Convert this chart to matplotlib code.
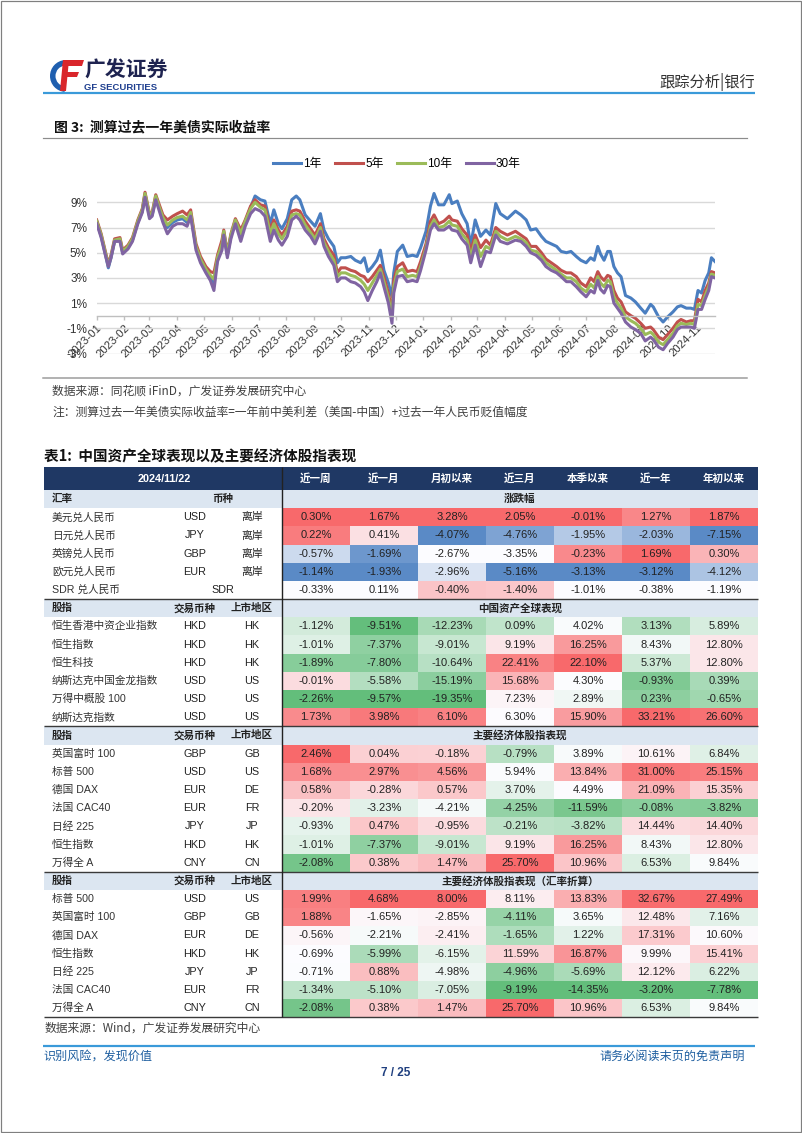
import matplotlib
matplotlib.use("Agg")
import matplotlib.pyplot as plt
import matplotlib.dates as mdates
import matplotlib.colors as mcolors
from matplotlib.patches import Rectangle, Wedge, Polygon
from matplotlib.lines import Line2D
import numpy as np
import pandas as pd

# ---------------- Figure 3 data ----------------
dates = ["2023-01-01","2023-01-06","2023-01-10","2023-01-14","2023-01-17","2023-01-21","2023-01-27","2023-01-30",
         "2023-02-05","2023-02-10","2023-02-16","2023-02-21","2023-02-24",
         "2023-03-01","2023-03-04","2023-03-08","2023-03-12","2023-03-16","2023-03-21","2023-03-27",
         "2023-04-01","2023-04-07","2023-04-12","2023-04-16","2023-04-22","2023-04-27",
         "2023-05-03","2023-05-08","2023-05-12","2023-05-16","2023-05-21","2023-05-23","2023-05-27","2023-05-31",
         "2023-06-05","2023-06-11","2023-06-16","2023-06-22","2023-06-27",
         "2023-07-03","2023-07-08","2023-07-14","2023-07-18","2023-07-23","2023-07-27",
         "2023-08-02","2023-08-07","2023-08-12","2023-08-16","2023-08-22","2023-08-28",
         "2023-09-02","2023-09-08","2023-09-12","2023-09-17","2023-09-23","2023-09-27",
         "2023-10-01","2023-10-06","2023-10-12","2023-10-17","2023-10-23","2023-10-27","2023-10-31",
         "2023-11-05","2023-11-10","2023-11-14","2023-11-18","2023-11-23","2023-11-27","2023-11-29",
         "2023-12-03","2023-12-09","2023-12-14","2023-12-20","2023-12-25","2023-12-29",
         "2024-01-04","2024-01-09","2024-01-13","2024-01-18","2024-01-24","2024-01-30",
         "2024-02-02","2024-02-08","2024-02-13","2024-02-19","2024-02-23","2024-02-28",
         "2024-03-05","2024-03-11","2024-03-16","2024-03-22","2024-03-27",
         "2024-04-04","2024-04-13","2024-04-19","2024-04-25","2024-04-30",
         "2024-05-06","2024-05-12","2024-05-17","2024-05-23","2024-05-29",
         "2024-06-03","2024-06-09","2024-06-14","2024-06-20","2024-06-25",
         "2024-07-01","2024-07-06","2024-07-10","2024-07-14","2024-07-17","2024-07-21","2024-07-25","2024-07-28",
         "2024-08-01","2024-08-05","2024-08-09","2024-08-14","2024-08-20","2024-08-25","2024-08-31",
         "2024-09-05","2024-09-11","2024-09-14","2024-09-20","2024-09-25","2024-09-30",
         "2024-10-06","2024-10-11","2024-10-15","2024-10-21","2024-10-26","2024-10-30",
         "2024-11-03","2024-11-07","2024-11-11","2024-11-15","2024-11-18","2024-11-22"]

yield_1y = [7.5, 6.3, 5.1, 3.8, 4.6, 5.9, 6.0, 5.0,
            5.4, 6.0, 7.4, 8.3, 9.6,
            7.9, 8.0, 9.3, 8.5, 7.7, 7.0, 7.4,
            7.6, 7.7, 7.4, 8.1, 5.4, 4.4,
            3.6, 3.1, 2.6, 4.5, 5.5, 6.6, 4.8, 6.3,
            7.5, 6.3, 7.4, 8.6, 9.5,
            9.2, 9.1, 7.3, 8.4, 7.3, 6.9,
            7.7, 9.2, 9.5, 9.2, 8.0, 7.5,
            7.1, 8.1, 6.8, 6.1, 5.5, 4.2,
            4.6, 4.6, 4.7, 4.4, 4.2, 4.6, 3.5,
            3.9, 4.4, 5.2, 3.6, 2.6, 1.5, 3.4,
            5.1, 5.6, 4.7, 4.8, 4.7, 5.4,
            6.7, 8.7, 9.7, 8.8, 8.8, 9.6,
            8.9, 9.1, 8.1, 7.3, 5.6, 7.6,
            6.3, 6.8, 6.4, 8.9, 8.1,
            7.7, 8.3, 8.0, 7.6, 6.8,
            6.9, 6.3, 5.9, 5.7, 5.5,
            5.1, 5.0, 5.1, 4.7, 4.4,
            4.2, 4.6, 4.4, 5.5, 4.9, 4.4, 5.1, 5.1,
            3.9, 3.4, 3.1, 1.6, 1.4, 1.1, 0.6,
            0.2, 0.9, 0.7, -0.1, -0.5, -0.1,
            0.3, 0.7, 0.8, 0.6, 0.6, 0.5,
            2.0, 1.8, 2.8, 3.4, 4.6, 4.3]

yield_5y = [7.6, 6.5, 5.3, 4.1, 4.8, 6.1, 6.2, 5.2,
            5.6, 6.2, 7.6, 8.5, 9.8,
            8.1, 8.2, 9.6, 8.8, 8.0, 7.6, 7.9,
            8.1, 8.3, 8.0, 8.4, 5.7, 4.7,
            3.9, 3.5, 3.4, 4.8, 6.0, 6.8, 5.0, 6.5,
            7.7, 6.8, 7.6, 8.7, 9.2,
            8.8, 8.7, 6.8, 7.6, 6.8, 6.4,
            7.1, 8.3, 8.4, 8.3, 7.5, 6.9,
            6.4, 7.3, 6.1, 5.4, 4.8, 3.4,
            3.8, 3.8, 3.6, 3.5, 3.2, 3.1, 2.7,
            3.1, 3.6, 4.0, 3.1, 1.8, 0.3, 2.8,
            3.9, 4.2, 3.5, 3.6, 3.5, 4.3,
            5.7, 7.5, 8.0, 7.3, 7.5, 7.9,
            7.6, 7.5, 6.9, 6.4, 5.1, 6.4,
            5.4, 6.0, 5.6, 7.0, 6.7,
            6.4, 6.7, 6.4, 6.1, 5.5,
            5.5, 5.0, 4.5, 4.2, 3.9,
            3.6, 3.4, 3.4, 3.1, 2.6,
            2.3, 3.0, 2.7, 3.5, 3.1, 2.8, 3.2, 3.1,
            2.0, 1.4, 1.1, 0.3, 0.0, -0.2, -0.6,
            -1.0, -0.9, -1.1, -1.7, -1.9, -1.5,
            -1.0, -0.5, -0.3, -0.5, -0.4, -0.4,
            1.3, 1.1, 2.0, 2.6, 3.5, 3.4]

yield_10y = [7.5, 6.4, 5.2, 4.0, 4.7, 6.0, 6.1, 5.1,
             5.5, 6.1, 7.5, 8.4, 9.7,
             8.0, 8.1, 9.5, 8.6, 7.8, 7.2, 7.6,
             7.8, 7.9, 7.6, 8.2, 5.5, 4.5,
             3.7, 3.2, 2.9, 4.6, 5.7, 6.7, 4.9, 6.4,
             7.6, 6.5, 7.5, 8.5, 9.0,
             8.6, 8.4, 6.5, 7.3, 6.5, 6.1,
             6.8, 8.0, 8.1, 8.0, 7.2, 6.6,
             6.1, 7.0, 5.8, 5.1, 4.4, 3.1,
             3.4, 3.4, 3.2, 3.1, 2.8, 2.5, 2.0,
             2.6, 3.2, 3.7, 2.7, 1.4, -0.1, 2.3,
             3.5, 3.7, 3.1, 3.2, 3.1, 3.9,
             5.4, 7.1, 7.6, 7.0, 7.1, 7.5,
             7.2, 7.1, 6.5, 6.0, 4.6, 6.0,
             4.7, 5.5, 5.3, 6.7, 6.3,
             6.0, 6.3, 6.1, 5.8, 5.2,
             5.1, 4.7, 4.2, 3.9, 3.6,
             3.3, 3.0, 3.0, 2.7, 2.2,
             1.9, 2.5, 2.2, 3.1, 2.6, 2.3, 2.8, 2.7,
             1.5, 1.0, 0.6, -0.1, -0.4, -0.6, -1.0,
             -1.5, -1.3, -1.5, -2.1, -2.3, -1.9,
             -1.4, -0.8, -0.6, -0.7, -0.6, -0.7,
             0.9, 0.8, 1.6, 2.3, 3.3, 3.2]

yield_30y = [7.3, 6.2, 5.0, 3.9, 4.6, 5.9, 5.9, 4.9,
             5.3, 5.9, 7.3, 8.2, 9.4,
             7.7, 7.9, 9.2, 8.3, 7.4, 6.5, 7.1,
             7.3, 7.3, 7.1, 7.9, 5.2, 4.2,
             3.4, 2.8, 2.0, 4.3, 5.2, 6.4, 4.6, 6.1,
             7.3, 5.9, 7.1, 8.1, 8.5,
             8.3, 7.9, 5.9, 6.8, 6.0, 5.6,
             6.3, 7.6, 7.9, 7.6, 6.8, 6.3,
             5.7, 6.7, 5.5, 4.7, 4.0, 2.7,
             3.0, 3.0, 2.7, 2.6, 2.3, 1.9, 1.2,
             2.0, 2.7, 3.4, 2.3, 1.0, -0.6, 1.8,
             3.1, 3.2, 2.7, 2.8, 2.7, 3.6,
             5.2, 6.8, 7.3, 6.8, 6.8, 7.1,
             6.8, 6.7, 6.1, 5.6, 4.2, 5.6,
             3.9, 5.1, 5.0, 6.4, 5.9,
             5.7, 6.0, 5.9, 5.5, 5.0,
             4.8, 4.4, 3.9, 3.6, 3.4,
             3.1, 2.7, 2.7, 2.3, 1.9,
             1.5, 2.0, 1.8, 2.8, 2.1, 1.8, 2.4, 2.3,
             1.0, 0.6, 0.2, -0.5, -0.9, -1.1, -1.4,
             -2.0, -1.7, -1.9, -2.5, -2.7, -2.2,
             -1.7, -1.1, -0.9, -0.9, -0.9, -1.0,
             0.5, 0.5, 1.3, 2.0, 3.1, 3.0]

series_names = ["1年", "5年", "10年", "30年"]
y_ticks = [-3, -1, 1, 3, 5, 7, 9]

# ---------------- Table 1 data ----------------
table_date = "2024/11/22"
periods = ["近一周", "近一月", "月初以来", "近三月", "本季以来", "近一年", "年初以来"]

fx_names = ["美元兑人民币", "日元兑人民币", "英镑兑人民币", "欧元兑人民币", "SDR 兑人民币"]
fx_codes = ["USD", "JPY", "GBP", "EUR", "SDR"]
fx_market = ["离岸", "离岸", "离岸", "离岸", ""]
fx_vals = [[0.30, 1.67, 3.28, 2.05, -0.01, 1.27, 1.87],
           [0.22, 0.41, -4.07, -4.76, -1.95, -2.03, -7.15],
           [-0.57, -1.69, -2.67, -3.35, -0.23, 1.69, 0.30],
           [-1.14, -1.93, -2.96, -5.16, -3.13, -3.12, -4.12],
           [-0.33, 0.11, -0.40, -1.40, -1.01, -0.38, -1.19]]

cn_names = ["恒生香港中资企业指数", "恒生指数", "恒生科技", "纳斯达克中国金龙指数", "万得中概股 100", "纳斯达克指数"]
cn_codes = ["HKD", "HKD", "HKD", "USD", "USD", "USD"]
cn_regions = ["HK", "HK", "HK", "US", "US", "US"]
cn_vals = [[-1.12, -9.51, -12.23, 0.09, 4.02, 3.13, 5.89],
           [-1.01, -7.37, -9.01, 9.19, 16.25, 8.43, 12.80],
           [-1.89, -7.80, -10.64, 22.41, 22.10, 5.37, 12.80],
           [-0.01, -5.58, -15.19, 15.68, 4.30, -0.93, 0.39],
           [-2.26, -9.57, -19.35, 7.23, 2.89, 0.23, -0.65],
           [1.73, 3.98, 6.10, 6.30, 15.90, 33.21, 26.60]]

eq_names = ["英国富时 100", "标普 500", "德国 DAX", "法国 CAC40", "日经 225", "恒生指数", "万得全 A"]
eq_codes = ["GBP", "USD", "EUR", "EUR", "JPY", "HKD", "CNY"]
eq_regions = ["GB", "US", "DE", "FR", "JP", "HK", "CN"]
eq_vals = [[2.46, 0.04, -0.18, -0.79, 3.89, 10.61, 6.84],
           [1.68, 2.97, 4.56, 5.94, 13.84, 31.00, 25.15],
           [0.58, -0.28, 0.57, 3.70, 4.49, 21.09, 15.35],
           [-0.20, -3.23, -4.21, -4.25, -11.59, -0.08, -3.82],
           [-0.93, 0.47, -0.95, -0.21, -3.82, 14.44, 14.40],
           [-1.01, -7.37, -9.01, 9.19, 16.25, 8.43, 12.80],
           [-2.08, 0.38, 1.47, 25.70, 10.96, 6.53, 9.84]]

eqfx_names = ["标普 500", "英国富时 100", "德国 DAX", "恒生指数", "日经 225", "法国 CAC40", "万得全 A"]
eqfx_codes = ["USD", "GBP", "EUR", "HKD", "JPY", "EUR", "CNY"]
eqfx_regions = ["US", "GB", "DE", "HK", "JP", "FR", "CN"]
eqfx_vals = [[1.99, 4.68, 8.00, 8.11, 13.83, 32.67, 27.49],
             [1.88, -1.65, -2.85, -4.11, 3.65, 12.48, 7.16],
             [-0.56, -2.21, -2.41, -1.65, 1.22, 17.31, 10.60],
             [-0.69, -5.99, -6.15, 11.59, 16.87, 9.99, 15.41],
             [-0.71, 0.88, -4.98, -4.96, -5.69, 12.12, 6.22],
             [-1.34, -5.10, -7.05, -9.19, -14.35, -3.20, -7.78],
             [-2.08, 0.38, 1.47, 25.70, 10.96, 6.53, 9.84]]

# ---------------- styling ----------------
W, H = 802, 1133
SANS = ["Liberation Sans", "Noto Sans CJK SC"]
CJK = ["Noto Sans CJK SC", "DejaVu Sans"]
LINE_COLORS = ["#4A7EC0", "#C0504D", "#9BBB59", "#8064A2"]
RED, GREEN, BLUE, WHITE = "#F8696B", "#63BE7B", "#5A8AC6", "#FCFCFF"

fig = plt.figure(figsize=(W / 100, H / 100), dpi=100)
fig.patch.set_facecolor("white")
page = fig.add_axes([0, 0, 1, 1])
page.set_xlim(0, W)
page.set_ylim(H, 0)
page.axis("off")

def px(p):
    return p * 72.0 / 100.0  # pixels -> points

# page frame
page.add_patch(Rectangle((0.5, 0.5), W - 1.5, H - 1.5, fill=False, ec="#7F7F7F", lw=px(1.2)))

# ---------------- header / logo ----------------
page.add_patch(Wedge((66, 76), 16, 95, 265, width=5.5, fc="#1F5FAF", ec="none"))
page.add_patch(Polygon([(64, 60), (84, 60), (82, 66), (62, 66)], closed=True, fc="#D9262B", ec="none"))
page.add_patch(Polygon([(63, 60), (69, 60), (66, 91), (60, 91)], closed=True, fc="#D9262B", ec="none"))
page.add_patch(Polygon([(63, 72), (79, 72), (77, 77), (62, 77)], closed=True, fc="#D9262B", ec="none"))
page.text(84, 70, "广发证券", family=CJK, fontsize=15, fontweight="bold", color="#1E2350",
          ha="left", va="center")
page.text(84, 87.5, "GF SECURITIES", family=SANS, fontsize=6.8, fontweight="bold", color="#1F3F8F",
          ha="left", va="center")
page.text(755, 82, "跟踪分析|银行", family=CJK, fontsize=11, color="#333333", ha="right", va="center")
page.plot([43, 755], [92.5, 92.5], color="#3A9AD9", lw=px(2.2), solid_capstyle="butt")

page.text(54, 127, "图 3:  测算过去一年美债实际收益率", family=CJK, fontsize=10, fontweight="bold",
          color="#111111", ha="left", va="center")
page.plot([43, 747], [137.5, 137.5], color="#8C8C8C", lw=px(1.2))
page.plot([43, 747], [378, 378], color="#9A9A9A", lw=px(1.5))
page.text(52, 391, "数据来源：同花顺 iFinD，广发证券发展研究中心", family=CJK, fontsize=8.5,
          color="#404040", ha="left", va="center")
page.text(52, 412, "注：测算过去一年美债实际收益率=一年前中美利差（美国-中国）+过去一年人民币贬值幅度",
          family=CJK, fontsize=8.5, color="#404040", ha="left", va="center")
page.text(44, 456, "表1:  中国资产全球表现以及主要经济体股指表现", family=CJK, fontsize=10.5,
          fontweight="bold", color="#111111", ha="left", va="center")

# ---------------- table ----------------
X0, XS, X1 = 44, 282, 758
CW = (X1 - XS) / 7.0
RH = 18.18
HT, HB = 467, 490

page.add_patch(Rectangle((X0, HT), X1 - X0, HB - HT, fc="#1F3864", ec="none"))
page.text((X0 + XS) / 2 + 1, (HT + HB) / 2, table_date, family=SANS, fontsize=7.8, fontweight="bold",
          color="white", ha="center", va="center")
for j, p in enumerate(periods):
    page.text(XS + CW * (j + 0.5), (HT + HB) / 2, p, family=CJK, fontsize=7.6, fontweight="bold",
              color="white", ha="center", va="center")

def blend(c, t):
    w = np.array(mcolors.to_rgb(WHITE))
    c = np.array(mcolors.to_rgb(c))
    t = min(max(t, 0.0), 1.0)
    return tuple(w + (c - w) * t)

def column_colors(values, low_col, high_col):
    v = np.asarray(values, float)
    med, mx, mn = np.median(v), v.max(), v.min()
    out = []
    for x in v:
        if x >= med:
            out.append(blend(high_col, (x - med) / (mx - med) if mx > med else 0))
        else:
            out.append(blend(low_col, (med - x) / (med - mn) if med > mn else 0))
    return out

fx_cols = [column_colors([r[j] for r in fx_vals], BLUE, RED) for j in range(7)]
stock_all = cn_vals + eq_vals + eqfx_vals
stock_cols = [column_colors([r[j] for r in stock_all], GREEN, RED) for j in range(7)]
n1, n2 = len(cn_vals), len(eq_vals)

sections = [
    dict(left=[("汇率", "l", 52), ("币种", "c", 223)], title="涨跌幅",
         names=fx_names, codes=fx_codes, regions=fx_market, vals=fx_vals,
         colors=[[fx_cols[j][i] for j in range(7)] for i in range(len(fx_vals))]),
    dict(left=[("股指", "l", 52), ("交易币种", "c", 195), ("上市地区", "c", 252)], title="中国资产全球表现",
         names=cn_names, codes=cn_codes, regions=cn_regions, vals=cn_vals,
         colors=[[stock_cols[j][i] for j in range(7)] for i in range(n1)]),
    dict(left=[("股指", "l", 52), ("交易币种", "c", 195), ("上市地区", "c", 252)], title="主要经济体股指表现",
         names=eq_names, codes=eq_codes, regions=eq_regions, vals=eq_vals,
         colors=[[stock_cols[j][n1 + i] for j in range(7)] for i in range(n2)]),
    dict(left=[("股指", "l", 52), ("交易币种", "c", 195), ("上市地区", "c", 252)],
         title="主要经济体股指表现（汇率折算）",
         names=eqfx_names, codes=eqfx_codes, regions=eqfx_regions, vals=eqfx_vals,
         colors=[[stock_cols[j][n1 + n2 + i] for j in range(7)] for i in range(len(eqfx_vals))]),
]

row = 0
sep_lines = []
for si, sec in enumerate(sections):
    top = HB + row * RH
    if si > 0:
        sep_lines.append(top)
    page.add_patch(Rectangle((X0, top), X1 - X0, RH, fc="#DCE6F1", ec="none"))
    cy = top + RH / 2
    for txt, al, x in sec["left"]:
        page.text(x, cy, txt, family=CJK, fontsize=7.6, fontweight="bold", color="#222222",
                  ha="left" if al == "l" else "center", va="center")
    page.text((XS + X1) / 2, cy, sec["title"], family=CJK, fontsize=7.6, fontweight="bold",
              color="#222222", ha="center", va="center")
    row += 1
    for i, name in enumerate(sec["names"]):
        top = HB + row * RH
        cy = top + RH / 2
        page.text(52, cy, name, family=SANS, fontsize=7.7, color="#333333", ha="left", va="center")
        region = sec["regions"][i]
        if region:
            page.text(195, cy, sec["codes"][i], family=SANS, fontsize=7.8, color="#222222",
                      ha="center", va="center")
            page.text(252, cy, region, family=SANS, fontsize=7.8, color="#222222",
                      ha="center", va="center")
        else:
            page.text(223, cy, sec["codes"][i], family=SANS, fontsize=7.8, color="#222222",
                      ha="center", va="center")
        for j, v in enumerate(sec["vals"][i]):
            page.add_patch(Rectangle((XS + CW * j, top), CW + 0.3, RH + 0.3,
                                     fc=sec["colors"][i][j], ec="none"))
            page.text(XS + CW * (j + 0.5), cy, f"{v:.2f}%", family=SANS, fontsize=8,
                      color="#222222", ha="center", va="center")
        row += 1

TB = HB + row * RH
for y in sep_lines + [TB]:
    page.plot([X0, X1], [y, y], color="#3A3A3A", lw=px(1.4), solid_capstyle="butt")
page.plot([XS, XS], [HT, TB], color="#222222", lw=px(1.4), solid_capstyle="butt")

page.text(45, 1028, "数据来源：Wind，广发证券发展研究中心", family=CJK, fontsize=8.5,
          color="#404040", ha="left", va="center")
page.plot([43, 755], [1045.5, 1045.5], color="#3A9AD9", lw=px(2.2), solid_capstyle="butt")
page.text(43, 1056, "识别风险，发现价值", family=CJK, fontsize=8.7, color="#1F5FA0",
          ha="left", va="center")
page.text(745, 1056, "请务必阅读末页的免责声明", family=CJK, fontsize=8.7, color="#1F5FA0",
          ha="right", va="center")
page.text(396, 1073, "7 / 25", family=SANS, fontsize=8.5, fontweight="bold", color="#1F3F7F",
          ha="center", va="center")

# ---------------- chart ----------------
AX_L, AX_R, AX_B, AX_T = 96.7, 715.0, 353.5, 183.4
ax = fig.add_axes([AX_L / W, 1 - AX_B / H, (AX_R - AX_L) / W, (AX_B - AX_T) / H])
ax.set_facecolor("none")
t = pd.to_datetime(dates)
for vals, name, c in zip([yield_1y, yield_5y, yield_10y, yield_30y], series_names, LINE_COLORS):
    ax.plot(t, vals, color=c, lw=2.2, label=name, solid_joinstyle="round")

ax.set_ylim(-3, 10.5)
ax.set_xlim(pd.Timestamp("2023-01-01"), pd.Timestamp("2024-11-22"))
ax.set_yticks(y_ticks)
ax.set_yticklabels([f"{v}%" for v in y_ticks], family=SANS, fontsize=8.5, color="#333333")
ax.yaxis.grid(True, color="#D9D9D9", lw=1.0)
ax.set_axisbelow(True)
for s in ["left", "right", "top"]:
    ax.spines[s].set_visible(False)
ax.spines["bottom"].set_position(("data", 0))
ax.spines["bottom"].set_color("#BFBFBF")
ax.spines["bottom"].set_linewidth(1.0)
ax.tick_params(axis="y", length=0, pad=7)
months = pd.date_range("2023-01-01", "2024-11-01", freq="MS")
ax.set_xticks(months)
ax.set_xticklabels([m.strftime("%Y-%m") for m in months], family=SANS, fontsize=8.1, color="#333333",
                   rotation=45, ha="right", va="top", rotation_mode="anchor")
ax.tick_params(axis="x", length=3, color="#BFBFBF", width=1.0, pad=2)

handles = [Line2D([0], [0], color=c, lw=2.2) for c in LINE_COLORS]
fig.legend(handles, series_names, loc="center", bbox_to_anchor=(397 / W, 1 - 164 / H), ncol=4,
           frameon=False, handlelength=2.35, handletextpad=0.2, columnspacing=1.15,
           prop={"family": SANS, "size": 8.5})

fig.savefig("out.png", dpi=100, facecolor="white")
